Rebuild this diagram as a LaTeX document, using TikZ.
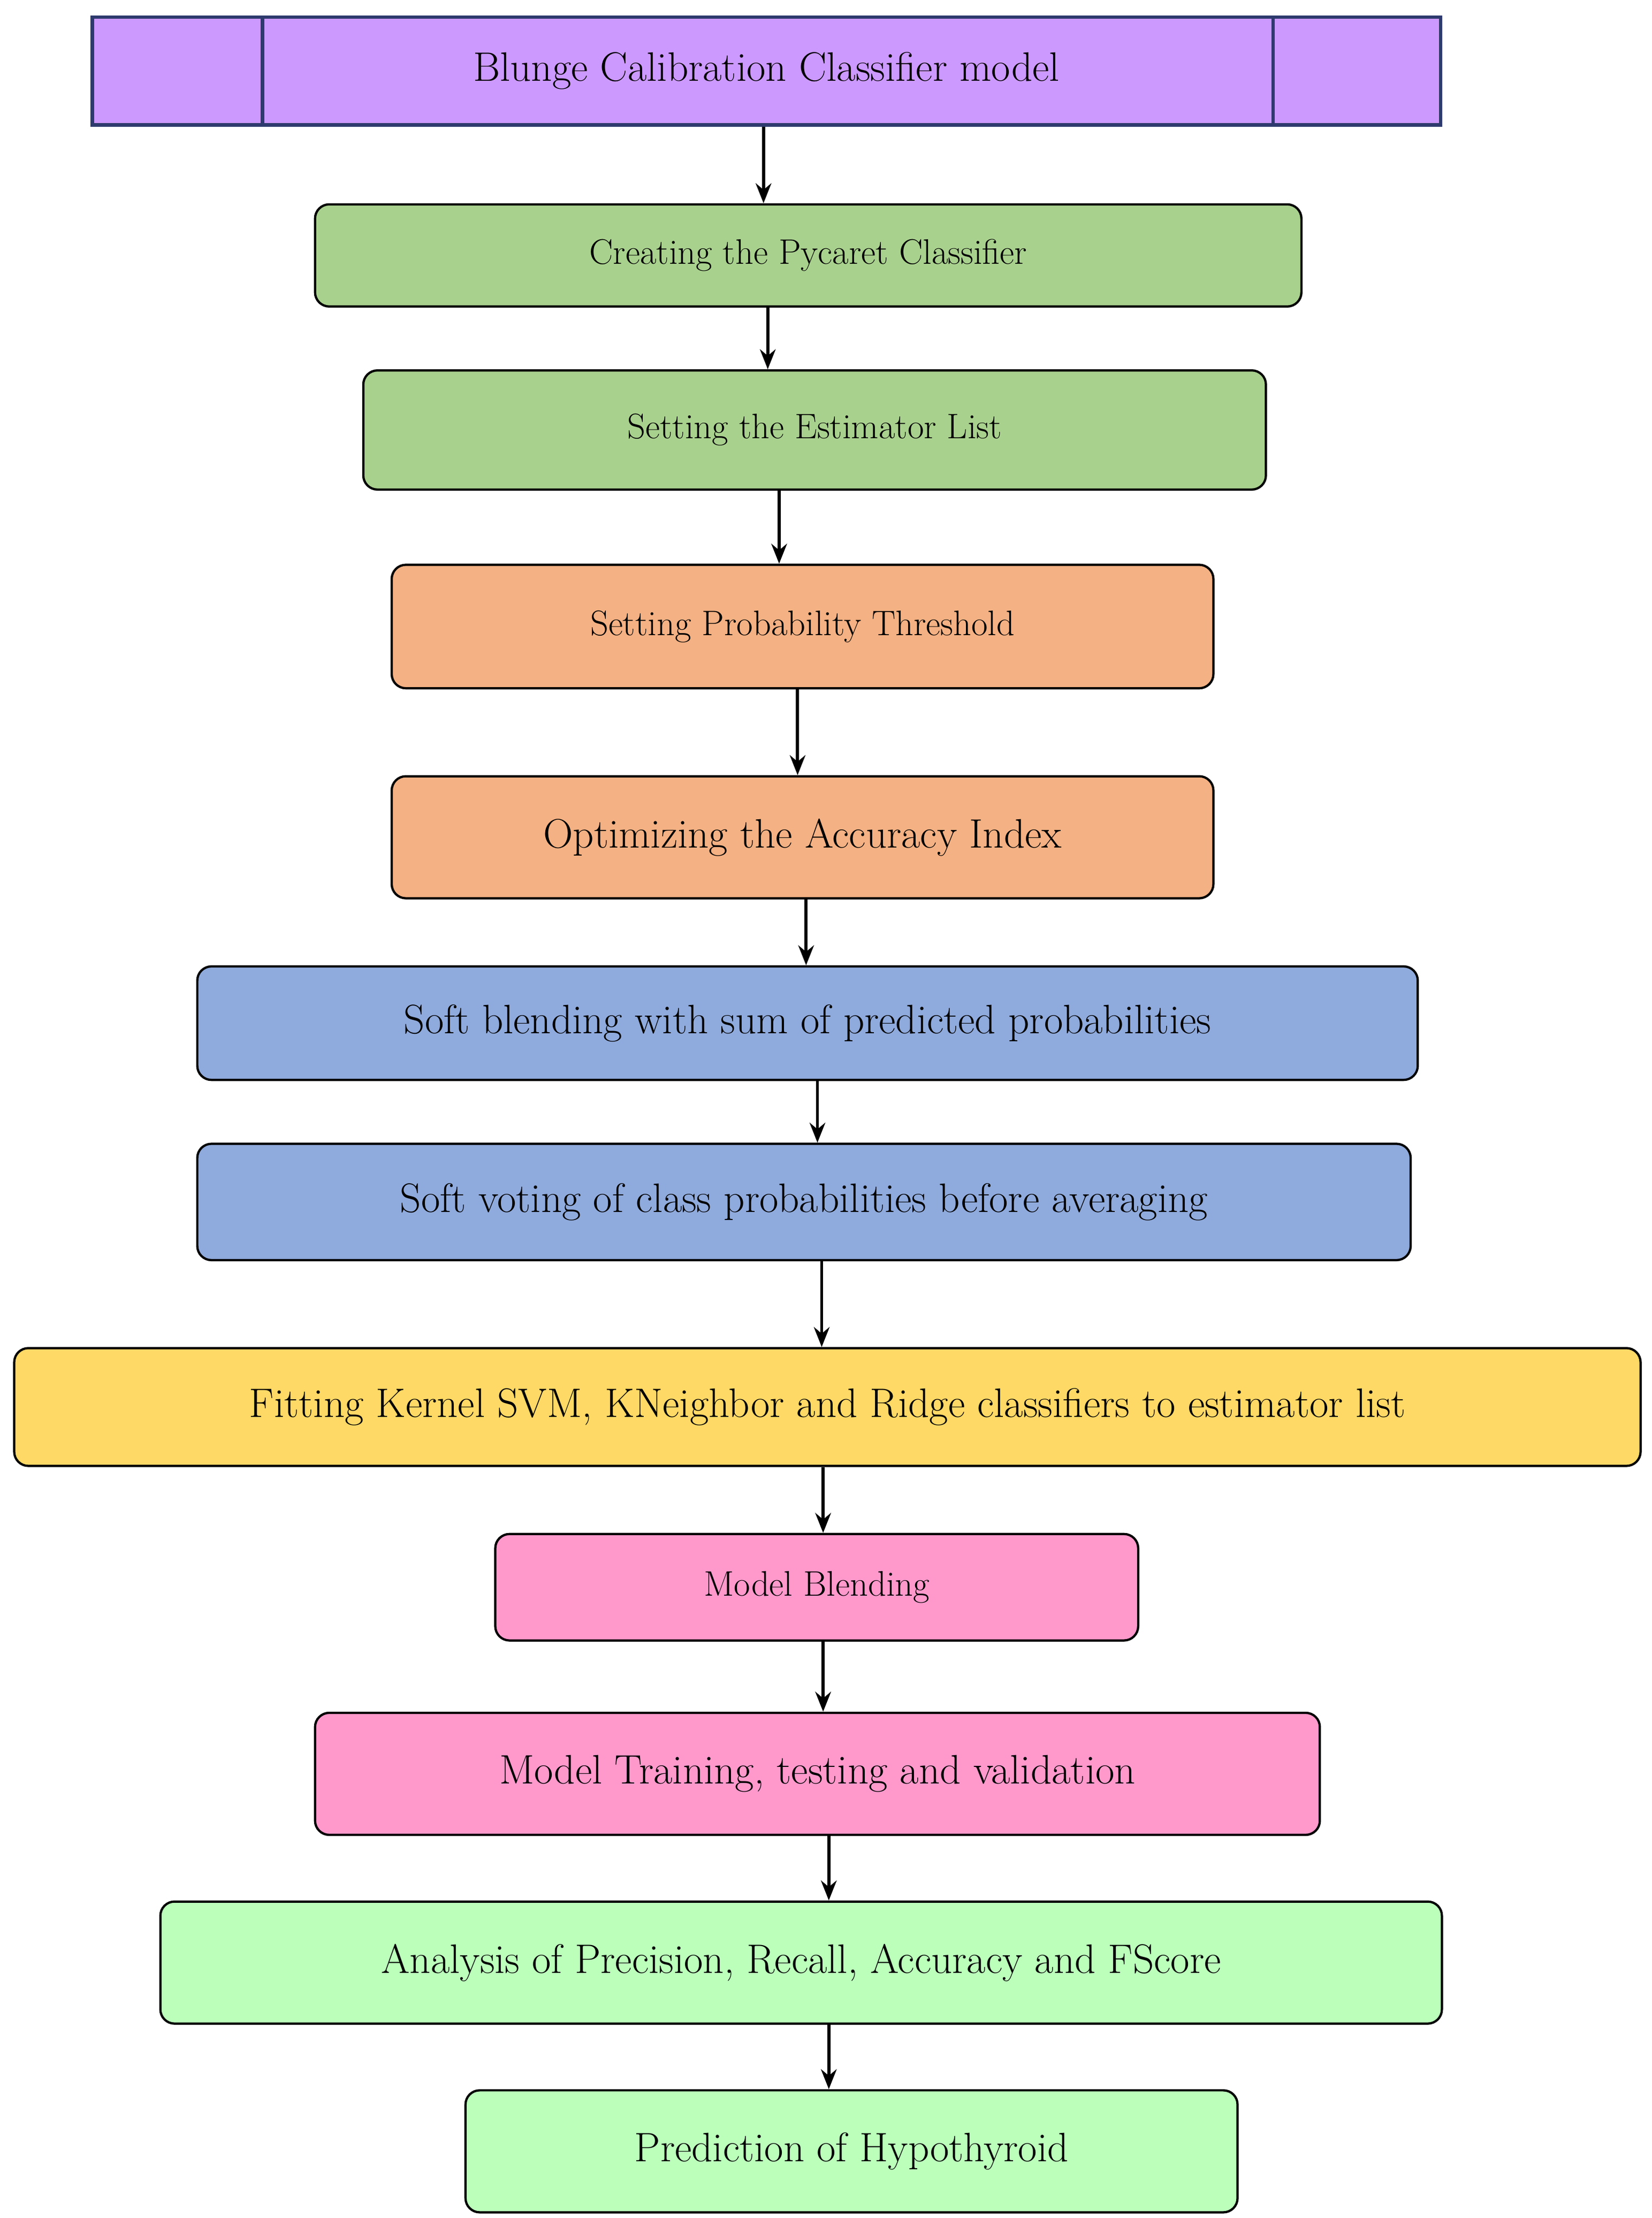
\documentclass[tikz,border=0pt]{standalone}
\usetikzlibrary{arrows.meta}
\definecolor{cpur}{HTML}{CC99FF}
\definecolor{cgrn}{HTML}{A9D18E}
\definecolor{corg}{HTML}{F4B183}
\definecolor{cblu}{HTML}{8FAADC}
\definecolor{cyel}{HTML}{FFD966}
\definecolor{cpnk}{HTML}{FF99CC}
\definecolor{clgr}{HTML}{BBFFBB}
\definecolor{cnav}{HTML}{2E3A6E}
\begin{document}
\begin{tikzpicture}[x=1pt,y=-1pt,
  box/.style={draw=black,line width=1.6pt,rounded corners=10pt,inner sep=0pt},
  big/.style={font=\fontsize{29}{34}\selectfont},
  small/.style={font=\fontsize{25}{30}\selectfont},
  arr/.style={-{Stealth[length=14pt,width=11pt]},line width=2.2pt}]
\useasboundingbox (0,0) rectangle (1164,1563);
\fill[white] (0,0) rectangle (1164,1563);
\newcommand\mybox[8]{\node[box,fill=#2,#8,minimum width=#4-#3,minimum height=#6-#5] (#1) at ({(#3+#4)/2},{(#5+#6)/2}) {#7};}
\node[draw=cnav,line width=2.4pt,fill=cpur,minimum width=950,minimum height=76,inner sep=0pt,big] (b1) at (540,50) {Blunge Calibration Classifier model};
\draw[cnav,line width=2.4pt] (185,12) -- (185,88) (897,12) -- (897,88);
\mybox{b2}{cgrn}{222}{917}{144}{216}{Creating the Pycaret Classifier}{small}
\mybox{b3}{cgrn}{256}{892}{261}{345}{Setting the Estimator List}{small}
\mybox{b4}{corg}{276}{855}{398}{485}{Setting Probability Threshold}{small}
\mybox{b5}{corg}{276}{855}{547}{633}{Optimizing the Accuracy Index}{big}
\mybox{b6}{cblu}{139}{999}{681}{761}{Soft blending with sum of predicted probabilities}{big}
\mybox{b7}{cblu}{139}{994}{806}{888}{Soft voting of class probabilities before averaging}{big}
\mybox{b8}{cyel}{10}{1156}{950}{1033}{Fitting Kernel SVM, KNeighbor and Ridge classifiers to estimator list}{big}
\mybox{b9}{cpnk}{349}{802}{1081}{1156}{Model Blending}{small}
\mybox{b10}{cpnk}{222}{930}{1207}{1293}{Model Training, testing and validation}{big}
\mybox{b11}{clgr}{113}{1016}{1340}{1426}{Analysis of Precision, Recall, Accuracy and FScore}{big}
\mybox{b12}{clgr}{328}{872}{1473}{1559}{Prediction of Hypothyroid}{big}
\foreach \a/\b/\x in {b1/b2/538,b2/b3/541,b3/b4/549,b4/b5/562,b5/b6/568,b6/b7/576,b7/b8/579,b8/b9/580,b9/b10/580,b10/b11/584,b11/b12/584}{
  \coordinate (X) at (\x,0);
  \draw[arr] (\a.south -| X) -- (\b.north -| X);
}
\end{tikzpicture}
\end{document}
